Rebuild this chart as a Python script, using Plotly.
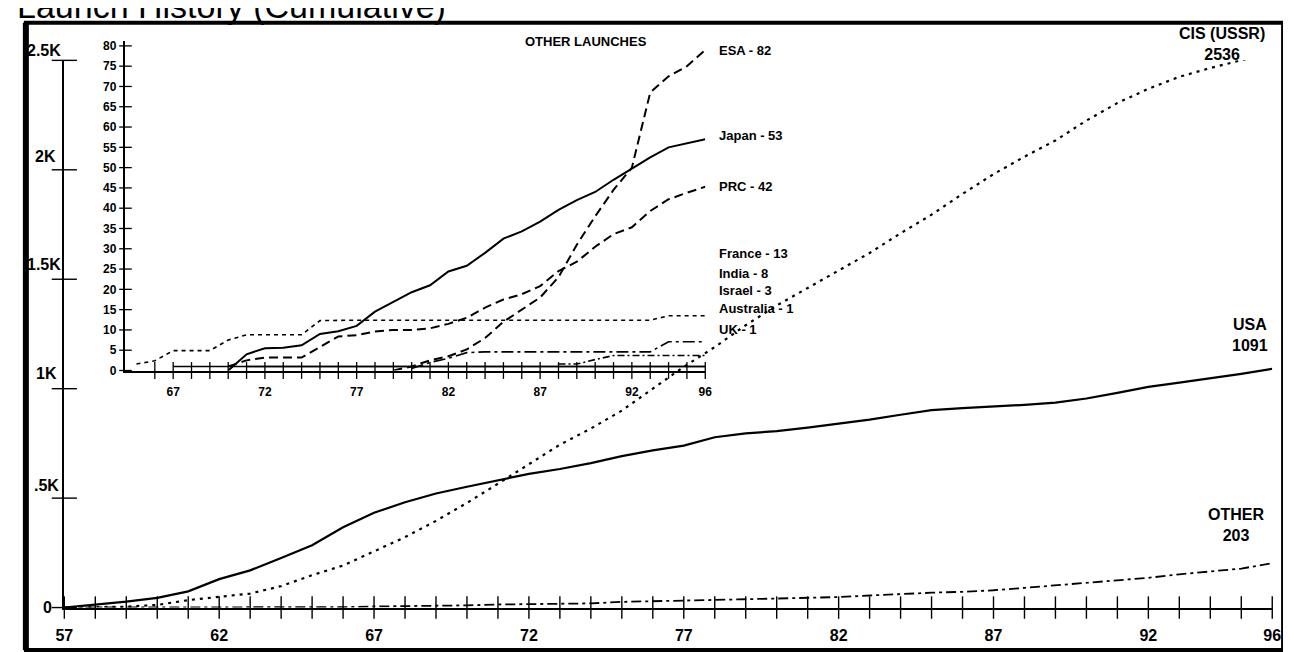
import plotly.graph_objects as go

W, H = 1291, 652

# ---------------- data ----------------
title_text = "Launch History (Cumulative)"

years = [57, 58, 59, 60, 61, 62, 63, 64, 65, 66, 67, 68, 69, 70, 71, 72, 73, 74, 75, 76,
         77, 78, 79, 80, 81, 82, 83, 84, 85, 86, 87, 88, 89, 90, 91, 92, 93, 94, 95, 96]
usa = [0, 12, 27, 44, 74, 130, 170, 226, 285, 367, 433, 481, 521, 552, 581, 611, 633, 660, 692, 718,
       740, 778, 796, 806, 822, 840, 859, 881, 902, 911, 917, 926, 936, 955, 981, 1008, 1028, 1047, 1068, 1091]
cis = [0, 1, 4, 12, 34, 49, 64, 98, 148, 192, 256, 322, 396, 478, 566, 655, 744, 818, 900, 1000,
       1100, 1190, 1290, 1380, 1460, 1540, 1620, 1710, 1795, 1890, 1980, 2060, 2134, 2225, 2305, 2370, 2425, 2465, 2500, 2536]
other = [0, 0, 0, 0, 0, 0, 0, 0, 1, 2, 5, 6, 6, 10, 14, 16, 17, 19, 26, 30,
         32, 35, 38, 41, 44, 48, 55, 63, 68, 72, 79, 90, 101, 113, 125, 136, 152, 165, 178, 203]

main_names = ["CIS (USSR)", "USA", "OTHER"]
main_totals = [2536, 1091, 203]

main_xtick_vals = [57, 62, 67, 72, 77, 82, 87, 92, 96]
main_xtick_text = ["57", "62", "67", "72", "77", "82", "87", "92", "96"]
main_ytick_vals = [0, 500, 1000, 1500, 2000, 2500]
main_ytick_text = ["0", ".5K", "1K", "1.5K", "2K", "2.5K"]

inset_title = "OTHER LAUNCHES"
esa_years = [79, 80, 81, 82, 83, 84, 85, 86, 87, 88, 89, 90, 91, 92, 93, 94, 95, 96]
esa = [0, 1, 2.5, 3.5, 5.2, 8, 12, 15, 18, 23, 31, 38, 44.5, 50, 68.5, 72.5, 75, 79]
japan_years = [70, 71, 72, 73, 74, 75, 76, 77, 78, 79, 80, 81, 82, 83, 84, 85, 86, 87, 88, 89, 90, 91, 92, 93, 94, 95, 96]
japan = [0, 4, 5.5, 5.6, 6.2, 9, 9.7, 11, 14.5, 17, 19.3, 21, 24.4, 25.8, 29, 32.5, 34.3, 36.7, 39.6, 42, 44, 47, 49.8, 52.5, 55, 56, 57]
prc_years = [70, 71, 72, 73, 74, 75, 76, 77, 78, 79, 80, 81, 82, 83, 84, 85, 86, 87, 88, 89, 90, 91, 92, 93, 94, 95, 96]
prc = [1, 2.5, 3.2, 3.2, 3.2, 5.8, 8.4, 8.7, 9.6, 10, 10, 10.4, 11.5, 13, 15.5, 17.5, 18.8, 20.8, 24.5, 26.8, 30.5, 33.6, 35.3, 39.3, 42.2, 43.8, 45.3]
france_years = [65, 66, 67, 68, 69, 70, 71, 72, 73, 74, 75, 76, 77, 78, 79, 80, 81, 82, 83, 84, 85, 86, 87, 88, 89, 90, 91, 92, 93, 94, 95, 96]
france = [1.6, 2.4, 4.9, 4.9, 4.9, 7.5, 8.8, 8.8, 8.8, 8.8, 12.3, 12.4, 12.4, 12.4, 12.4, 12.4, 12.4, 12.4, 12.4, 12.4,
          12.4, 12.4, 12.4, 12.4, 12.4, 12.4, 12.4, 12.4, 12.4, 13.5, 13.5, 13.5]
india_years = [80, 81, 82, 83, 84, 85, 86, 87, 88, 89, 90, 91, 92, 93, 94, 95, 96]
india = [0.5, 2, 3, 4.4, 4.6, 4.6, 4.6, 4.6, 4.6, 4.6, 4.6, 4.6, 4.6, 4.6, 7.1, 7.1, 7.1]
israel_years = [88, 89, 90, 91, 92, 93, 94, 95, 96]
israel = [1.6, 1.6, 2.7, 3.7, 3.7, 3.7, 3.7, 3.7, 3.7]
australia_years = [67, 96]
australia = [1, 1]
uk_years = [71, 96]
uk = [1, 1]

inset_names = ["ESA", "Japan", "PRC", "France", "India", "Israel", "Australia", "UK"]
inset_totals = [82, 53, 42, 13, 8, 3, 1, 1]

inset_xtick_vals = [67, 72, 77, 82, 87, 92, 96]
inset_xtick_text = ["67", "72", "77", "82", "87", "92", "96"]
inset_ytick_vals = [0, 5, 10, 15, 20, 25, 30, 35, 40, 45, 50, 55, 60, 65, 70, 75, 80]
inset_ytick_text = ["0", "5", "10", "15", "20", "25", "30", "35", "40", "45", "50", "55", "60", "65", "70", "75", "80"]
inset_minor_years = [66, 67, 68, 69, 70, 71, 72, 73, 74, 75, 76, 77, 78, 79, 80, 81,
                     82, 83, 84, 85, 86, 87, 88, 89, 90, 91, 92, 93, 94, 95, 96]

# ---------------- layout geometry (pixels) ----------------
def px_x(x):
    return x / W


def px_y(y):
    return 1 - y / H


FONT = "Arial, 'Liberation Sans', Helvetica, sans-serif"
BLACK = "#000000"

MAIN_X0, MAIN_X1 = 48, 1273
MAIN_Y0, MAIN_Y1 = 606, 52
IN_X0, IN_X1 = 110, 698
IN_Y0, IN_Y1 = 366, 32
IN_XRANGE = [64.4, 96]
IN_YRANGE = [0, 81.3]

fig = go.Figure()

# main series
fig.add_trace(go.Scatter(x=years, y=cis, mode="lines", name=main_names[0],
                         line=dict(color=BLACK, width=2.2, dash="3px,5px")))
fig.add_trace(go.Scatter(x=years, y=usa, mode="lines", name=main_names[1],
                         line=dict(color=BLACK, width=2.2)))
fig.add_trace(go.Scatter(x=years, y=other, mode="lines", name=main_names[2],
                         line=dict(color=BLACK, width=1.8, dash="10px,4px,3px,4px")))

# main crossing ticks
fig.add_trace(go.Scatter(x=years, y=[0] * len(years), mode="markers", cliponaxis=False,
                         marker=dict(symbol="line-ns", size=16, line=dict(color=BLACK, width=1.4))))
fig.add_trace(go.Scatter(x=[years[0]] * len(main_ytick_vals), y=main_ytick_vals, mode="markers",
                         cliponaxis=False,
                         marker=dict(symbol="line-ew", size=18, line=dict(color=BLACK, width=1.4))))

# inset series
inset_series = [
    (esa_years, esa, dict(width=2, dash="9px,5px")),
    (japan_years, japan, dict(width=2)),
    (prc_years, prc, dict(width=2, dash="9px,5px")),
    (france_years, france, dict(width=1.6, dash="4px,4px")),
    (india_years, india, dict(width=1.6, dash="12px,4px,3px,4px")),
    (israel_years, israel, dict(width=1.6, dash="7px,3px,2px,3px")),
    (australia_years, australia, dict(width=1.5)),
    (uk_years, uk, dict(width=1.5)),
]
for (xs, ys, st), nm in zip(inset_series, inset_names):
    fig.add_trace(go.Scatter(x=xs, y=ys, mode="lines", name=nm, xaxis="x2", yaxis="y2",
                             line=dict(color=BLACK, **st)))

fig.add_trace(go.Scatter(x=inset_minor_years, y=[0] * len(inset_minor_years), mode="markers",
                         xaxis="x2", yaxis="y2", cliponaxis=False,
                         marker=dict(symbol="line-ns", size=12, line=dict(color=BLACK, width=1.3))))
fig.add_trace(go.Scatter(x=[IN_XRANGE[0]] * len(inset_ytick_vals), y=inset_ytick_vals, mode="markers",
                         xaxis="x2", yaxis="y2", cliponaxis=False,
                         marker=dict(symbol="line-ew", size=9, line=dict(color=BLACK, width=1.3))))

annotations = []
# title (top clipped like the reference)
annotations.append(dict(text=title_text, xref="paper", yref="paper", x=0, y=1,
                        xanchor="left", yanchor="bottom", yshift=-18, xshift=-2, showarrow=False,
                        font=dict(family=FONT, size=34, color=BLACK)))
# main y tick labels (label offsets are style only)
ylabel_xshift = [-10, -3, -5, -1, -6, -1]
ylabel_yshift = [0, 13, 15, 15, 13, 10]
for v, t, dx, dy in zip(main_ytick_vals, main_ytick_text, ylabel_xshift, ylabel_yshift):
    annotations.append(dict(text=t, xref="x", yref="y", x=years[0], y=v,
                            xanchor="right", yanchor="middle", xshift=dx, yshift=dy,
                            showarrow=False,
                            font=dict(family=FONT, size=16, color=BLACK, weight="bold")))
# main end labels (pixel centres)
main_label_pos = [(1222, 35), (1250, 330), (1236, 522)]
for nm, tot, (cx, cy) in zip(main_names, main_totals, main_label_pos):
    annotations.append(dict(text="%s<br>%d" % (nm, tot), xref="paper", yref="paper",
                            x=px_x(cx), y=px_y(cy), xanchor="center", yanchor="middle",
                            align="center", showarrow=False,
                            font=dict(family=FONT, size=16, color=BLACK, weight="bold")))
# inset title
annotations.append(dict(text=inset_title, xref="paper", yref="paper",
                        x=px_x(577), y=px_y(33), xanchor="center", yanchor="middle",
                        showarrow=False, font=dict(family=FONT, size=13, color=BLACK, weight="bold")))
# inset right labels
inset_label_y = [42, 128, 180, 248, 268, 285, 303, 324]
for nm, tot, ly in zip(inset_names, inset_totals, inset_label_y):
    annotations.append(dict(text="%s - %d" % (nm, tot), xref="paper", yref="paper",
                            x=px_x(710), y=px_y(ly), xanchor="left", yanchor="middle",
                            showarrow=False, font=dict(family=FONT, size=13, color=BLACK, weight="bold")))

shapes = [
    dict(type="rect", xref="paper", yref="paper", x0=px_x(9), x1=px_x(1284),
         y0=px_y(649), y1=px_y(14), line=dict(color=BLACK, width=4)),
    dict(type="line", xref="paper", yref="paper", x0=px_x(9), x1=px_x(9),
         y0=px_y(649), y1=px_y(14), line=dict(color=BLACK, width=6)),
]

axis_common = dict(showgrid=False, zeroline=False, showline=True, linecolor=BLACK,
                   linewidth=1.5, ticks="", fixedrange=True)

fig.update_layout(
    width=W, height=H,
    margin=dict(l=0, r=0, t=0, b=0),
    paper_bgcolor="white", plot_bgcolor="rgba(0,0,0,0)",
    showlegend=False,
    xaxis=dict(domain=[px_x(MAIN_X0), px_x(MAIN_X1)], range=[57, 96], anchor="y",
               tickmode="array", tickvals=main_xtick_vals, ticktext=main_xtick_text,
               tickfont=dict(family=FONT, size=16, color=BLACK, weight="bold"), ticklabelstandoff=12,
               **axis_common),
    yaxis=dict(domain=[px_y(MAIN_Y0), px_y(MAIN_Y1)], range=[0, 2500], anchor="x",
               showticklabels=False, **axis_common),
    xaxis2=dict(domain=[px_x(IN_X0), px_x(IN_X1)], range=IN_XRANGE, anchor="y2",
                tickmode="array", tickvals=inset_xtick_vals, ticktext=inset_xtick_text,
                tickfont=dict(family=FONT, size=12, color=BLACK, weight="bold"), ticklabelstandoff=9,
                **axis_common),
    yaxis2=dict(domain=[px_y(IN_Y0), px_y(IN_Y1)], range=IN_YRANGE, anchor="x2",
                tickmode="array", tickvals=inset_ytick_vals, ticktext=inset_ytick_text,
                tickfont=dict(family=FONT, size=12, color=BLACK, weight="bold"), ticklabelstandoff=5,
                **axis_common),
    annotations=annotations,
    shapes=shapes,
)

fig.write_html("out.html")
